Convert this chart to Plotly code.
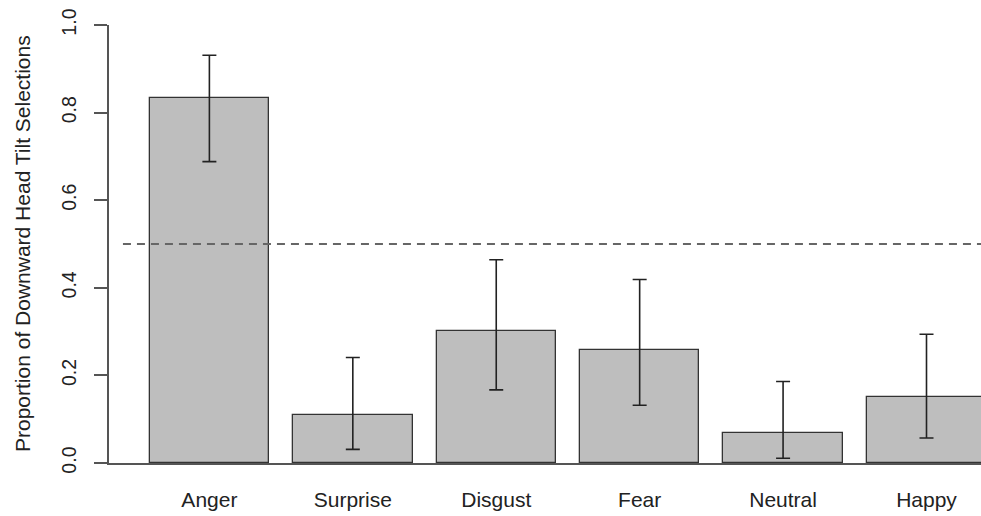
import plotly.graph_objects as go

# proportions
emotions = ["Anger", "Surprise", "Disgust", "Fear", "Neutral", "Happy"]
proportion = [0.834, 0.110, 0.302, 0.259, 0.068, 0.150]
ci_upper = [0.931, 0.241, 0.464, 0.419, 0.186, 0.294]
ci_lower = [0.688, 0.031, 0.167, 0.132, 0.011, 0.057]
chance_level = 0.5
y_ticks = [0.0, 0.2, 0.4, 0.6, 0.8, 1.0]

err_plus = [u - p for u, p in zip(ci_upper, proportion)]
err_minus = [p - l for p, l in zip(proportion, ci_lower)]

FONT = "Liberation Sans, Arial, sans-serif"
TEXT = "#222222"

fig = go.Figure()

fig.add_trace(go.Bar(
    x=emotions,
    y=proportion,
    width=0.833,
    marker=dict(color="#BEBEBE", line=dict(color="#333333", width=1.3)),
    error_y=dict(
        type="data",
        symmetric=False,
        array=err_plus,
        arrayminus=err_minus,
        color="#222222",
        thickness=1.6,
        width=7,
    ),
    showlegend=False,
))

# chance line
fig.add_hline(
    y=chance_level,
    x0=0.016, x1=1,
    line=dict(color="#666666", width=2, dash="8px,6px"),
)

# y-axis title as an annotation so it can sit close to the page edge
fig.add_annotation(
    text="Proportion of Downward Head Tilt Selections",
    xref="paper", yref="paper",
    x=0, y=0.5,
    xshift=-87,
    xanchor="center", yanchor="middle",
    textangle=-90,
    showarrow=False,
    font=dict(size=21, color=TEXT),
)

fig.update_layout(
    width=981,
    height=516,
    paper_bgcolor="white",
    plot_bgcolor="white",
    margin=dict(l=109, r=0, t=25, b=53),
    font=dict(family=FONT, size=20, color=TEXT),
    bargap=0,
    xaxis=dict(
        type="category",
        range=[-0.70, 5.38],
        showline=True,
        linecolor="#555555",
        linewidth=1.5,
        ticks="",
        showgrid=False,
        zeroline=False,
        tickfont=dict(size=21, color=TEXT),
        ticklabelstandoff=17,
    ),
    yaxis=dict(
        range=[0, 1],
        tickvals=y_ticks,
        ticktext=[f"{v:.1f}" for v in y_ticks],
        tickangle=-90,
        ticks="outside",
        ticklen=13,
        tickwidth=1.5,
        tickcolor="#555555",
        showline=True,
        linecolor="#555555",
        linewidth=1.5,
        showgrid=False,
        zeroline=False,
        tickfont=dict(size=19.5, color=TEXT),
        ticklabelstandoff=10,
    ),
)

# drop the default body margin so the figure fills the window exactly
fig.write_html(
    "out.html",
    config={"displayModeBar": False},
    post_script="document.body.style.margin='0';",
)
